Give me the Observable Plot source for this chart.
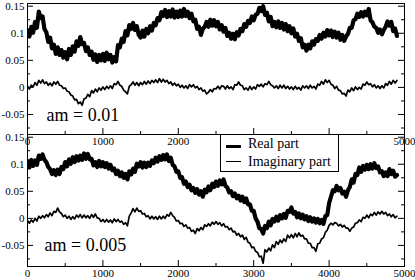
<!DOCTYPE html>
<html><head><meta charset="utf-8">
<script src="https://cdn.jsdelivr.net/npm/d3@7"></script>
<script src="https://cdn.jsdelivr.net/npm/@observablehq/plot@0.6"></script>
<style>
html,body{margin:0;padding:0;background:#fff;}
#wrap{position:relative;width:415px;height:280px;overflow:hidden;font-family:"Liberation Serif","Times New Roman",serif;}
#wrap svg{position:absolute;left:0;}
#wrap svg text{font-family:"Liberation Serif","Times New Roman",serif !important;font-variant:normal !important;}
#legend{position:absolute;left:220px;top:134px;width:119px;height:38px;border:1px solid #000;box-sizing:border-box;background:#fff;font-size:14px;line-height:1;color:#000;}
#legend .ln{position:absolute;left:5px;width:15px;background:#000;}
#legend .lb{position:absolute;left:27px;white-space:nowrap;}
</style></head><body><div id="wrap"><div id="legend">
<div class="ln" style="top:10px;height:3px"></div><div class="lb" style="top:2px">Real part</div>
<div class="ln" style="top:26px;height:1px"></div><div class="lb" style="top:20px">Imaginary part</div>
</div></div>
<script>
// sample spacing along the horizontal axis
const step = 25;
const xTicks = [0, 1000, 2000, 3000, 4000, 5000];
const xMinorTicks = [500, 1500, 2500, 3500, 4500];
// top panel: the 3000 and 4000 labels sit behind the legend box
const xLabelsTop = [0, 1000, 2000, 5000];
const xLabelsBottom = [0, 1000, 2000, 3000, 4000, 5000];
const yTicks = [-0.05, 0, 0.05, 0.1, 0.15];
const yMinorTicks = [-0.075, -0.025, 0.025, 0.075, 0.125];
const panelLabels = ["am = 0.01", "am = 0.005"];

// am = 0.01
const realTop = [0.106,0.094,0.112,0.101,0.121,0.110,0.140,0.128,0.131,0.108,0.102,0.084,0.092,0.072,0.079,0.062,
0.074,0.060,0.069,0.055,0.065,0.052,0.071,0.060,0.076,0.066,0.085,0.077,0.093,0.080,0.082,0.067,
0.074,0.060,0.066,0.051,0.061,0.047,0.060,0.050,0.062,0.049,0.064,0.052,0.060,0.046,0.056,0.048,
0.078,0.074,0.090,0.084,0.104,0.096,0.115,0.108,0.119,0.106,0.113,0.097,0.092,0.105,0.094,0.108,
0.100,0.113,0.105,0.119,0.115,0.128,0.124,0.139,0.132,0.143,0.130,0.141,0.131,0.144,0.129,0.140,
0.130,0.142,0.131,0.145,0.132,0.140,0.128,0.136,0.122,0.125,0.108,0.112,0.097,0.108,0.112,0.121,
0.112,0.125,0.114,0.124,0.113,0.121,0.107,0.115,0.103,0.110,0.095,0.101,0.090,0.099,0.089,0.102,
0.096,0.108,0.104,0.117,0.112,0.123,0.119,0.131,0.124,0.134,0.136,0.147,0.141,0.150,0.134,0.138,
0.122,0.130,0.113,0.121,0.111,0.122,0.110,0.119,0.107,0.117,0.104,0.113,0.100,0.109,0.094,0.099,
0.086,0.091,0.074,0.079,0.068,0.079,0.072,0.085,0.079,0.089,0.086,0.097,0.090,0.101,0.094,0.106,
0.096,0.105,0.093,0.103,0.092,0.101,0.088,0.097,0.086,0.094,0.099,0.110,0.110,0.124,0.126,0.136,
0.130,0.139,0.131,0.140,0.133,0.145,0.124,0.120,0.112,0.110,0.101,0.107,0.098,0.106,0.112,0.122,
0.114,0.121,0.104,0.109,0.095];
const imagTop = [0.002,-0.003,0.004,0.001,0.009,0.004,0.013,0.008,0.014,0.007,0.010,0.004,0.008,0.003,0.010,0.006,
0.011,0.004,0.003,-0.002,-0.001,-0.007,-0.008,-0.014,-0.016,-0.023,-0.022,-0.030,-0.027,-0.033,-0.021,-0.020,
-0.013,-0.017,-0.006,-0.010,-0.003,-0.008,-0.001,-0.005,0.001,-0.004,0.002,-0.002,0.003,-0.002,0.007,0.005,
0.011,0.004,0.002,-0.005,-0.008,-0.012,0.002,0.005,0.010,0.004,0.009,0.003,0.009,0.005,0.011,0.006,
0.012,0.007,0.013,0.009,0.014,0.009,0.016,0.010,0.015,0.010,0.013,0.007,0.010,0.004,0.008,0.003,
0.006,0.000,0.004,-0.001,0.003,-0.002,0.005,0.001,0.005,-0.001,0.002,-0.004,-0.001,-0.007,-0.005,-0.012,
-0.009,-0.004,-0.008,-0.002,-0.003,0.002,-0.003,0.003,0.002,-0.003,0.003,-0.002,0.001,-0.004,0.005,0.004,
0.010,0.004,0.003,-0.004,-0.001,-0.005,0.002,-0.004,0.001,-0.003,0.005,0.002,0.006,0.001,0.007,0.005,
0.011,0.005,0.003,-0.001,0.003,-0.002,0.004,-0.001,0.004,-0.002,0.002,-0.003,0.001,-0.004,0.002,-0.003,
0.000,-0.005,0.003,-0.001,0.003,-0.002,0.004,-0.001,0.002,-0.003,0.006,0.004,0.011,0.006,0.014,0.009,
0.013,0.006,0.004,-0.002,0.002,-0.005,-0.006,-0.012,-0.011,-0.016,-0.005,-0.008,-0.001,-0.006,0.001,-0.004,
0.000,-0.003,0.006,0.004,0.010,0.005,0.007,0.001,0.005,-0.001,0.003,-0.002,0.003,-0.001,0.007,0.004,
0.011,0.006,0.013,0.008,0.013];

// am = 0.005
const realBottom = [0.106,0.094,0.108,0.097,0.107,0.099,0.116,0.110,0.118,0.108,0.104,0.095,0.091,0.082,0.089,0.080,
0.090,0.082,0.095,0.091,0.104,0.096,0.109,0.101,0.113,0.104,0.115,0.107,0.116,0.108,0.120,0.110,
0.119,0.109,0.110,0.098,0.104,0.095,0.106,0.096,0.104,0.095,0.102,0.092,0.099,0.089,0.092,0.082,
0.088,0.078,0.085,0.075,0.082,0.072,0.087,0.081,0.092,0.086,0.101,0.096,0.104,0.094,0.103,0.095,
0.103,0.097,0.107,0.102,0.112,0.105,0.115,0.108,0.117,0.109,0.118,0.106,0.112,0.099,0.096,0.086,
0.087,0.075,0.076,0.064,0.068,0.058,0.062,0.052,0.056,0.047,0.054,0.044,0.050,0.040,0.053,0.048,
0.059,0.052,0.064,0.058,0.068,0.060,0.070,0.063,0.072,0.060,0.057,0.048,0.050,0.041,0.046,0.037,
0.042,0.033,0.040,0.030,0.037,0.026,0.026,0.014,0.014,0.000,-0.006,-0.018,-0.020,-0.028,-0.014,-0.018,
-0.006,-0.013,-0.001,-0.006,0.003,-0.004,0.006,0.000,0.008,0.001,0.014,0.012,0.020,0.009,0.012,0.002,
0.009,0.000,0.007,-0.002,0.004,-0.005,0.002,-0.006,0.000,-0.008,-0.001,-0.009,-0.003,-0.010,0.004,0.006,
0.028,0.040,0.052,0.050,0.060,0.052,0.056,0.046,0.049,0.040,0.052,0.058,0.072,0.066,0.082,0.080,
0.094,0.086,0.097,0.090,0.099,0.091,0.100,0.092,0.102,0.093,0.096,0.085,0.087,0.078,0.085,0.078,
0.091,0.082,0.088,0.077,0.080];
const imagBottom = [-0.004,-0.009,-0.003,-0.007,0.000,-0.005,0.004,0.000,0.005,0.001,0.007,0.003,0.010,0.005,0.013,0.011,
0.019,0.012,0.009,0.003,0.006,0.000,0.004,-0.002,0.003,-0.001,0.006,0.002,0.007,0.001,0.006,0.001,
0.005,0.000,0.007,0.002,0.008,0.001,0.000,-0.006,-0.002,-0.007,-0.002,-0.007,-0.003,-0.008,-0.001,-0.006,
-0.002,-0.007,-0.005,-0.011,-0.008,-0.014,0.004,0.010,0.018,0.012,0.019,0.013,0.014,0.008,0.009,0.003,
0.005,-0.001,0.004,-0.001,0.003,-0.002,0.004,-0.001,0.004,0.000,0.007,0.004,0.011,0.005,0.002,-0.005,
-0.004,-0.010,-0.009,-0.015,-0.012,-0.018,-0.017,-0.024,-0.022,-0.028,-0.019,-0.023,-0.017,-0.021,-0.012,-0.015,
-0.010,-0.014,-0.007,-0.011,-0.006,-0.011,-0.008,-0.014,-0.010,-0.016,-0.015,-0.021,-0.018,-0.025,-0.024,-0.031,
-0.028,-0.034,-0.031,-0.039,-0.035,-0.044,-0.046,-0.054,-0.053,-0.061,-0.063,-0.071,-0.070,-0.083,-0.058,-0.062,
-0.055,-0.060,-0.049,-0.054,-0.043,-0.048,-0.040,-0.045,-0.038,-0.043,-0.031,-0.036,-0.030,-0.036,-0.028,-0.034,
-0.027,-0.033,-0.031,-0.038,-0.038,-0.046,-0.046,-0.054,-0.054,-0.061,-0.047,-0.046,-0.038,-0.036,-0.026,-0.022,
-0.013,-0.009,-0.012,-0.008,-0.009,-0.014,-0.011,-0.016,-0.013,-0.018,-0.018,-0.024,-0.018,-0.016,-0.009,-0.008,
-0.003,-0.006,0.002,0.000,0.006,0.001,0.008,0.005,0.011,0.006,0.012,0.008,0.013,0.008,0.011,0.005,
0.008,0.003,0.007,0.001,0.004];

const rows = arr => arr.map((v, i) => ({t: i * step, v}));
const font = '"Liberation Serif","Times New Roman",serif';
const fmt = d => String(d);

function panel({real, imag, label, xLabels, height, marginTop, marginBottom, yDomain, labelDx, labelDy}) {
  const W = 415, mL = 27, mR = 11;
  const iw = W - mL - mR, ih = height - marginTop - marginBottom;
  return Plot.plot({
    width: W, height, marginLeft: mL, marginRight: mR, marginTop, marginBottom,
    style: {fontFamily: font, fontSize: "11px", background: "transparent", color: "#000", overflow: "visible"},
    x: {domain: [0, 5000], axis: null, label: null},
    y: {domain: yDomain, axis: null, label: null},
    marks: [
      Plot.line(rows(imag), {x: "t", y: "v", stroke: "#000", strokeWidth: 1.7, clip: true}),
      Plot.line(rows(real), {x: "t", y: "v", stroke: "#000", strokeWidth: 4.2, clip: true}),
      Plot.tickX(xTicks, {x: d => d, insetTop: ih - 6, stroke: "#000"}),
      Plot.tickX(xMinorTicks, {x: d => d, insetTop: ih - 3, stroke: "#000"}),
      Plot.tickY(yTicks, {y: d => d, insetRight: iw - 6, stroke: "#000"}),
      Plot.tickY(yMinorTicks, {y: d => d, insetRight: iw - 3, stroke: "#000"}),
      Plot.tickY(yTicks, {y: d => d, insetLeft: iw - 6, stroke: "#000"}),
      Plot.tickY(yMinorTicks, {y: d => d, insetLeft: iw - 3, stroke: "#000"}),
      Plot.axisX(xLabels, {anchor: "bottom", tickSize: 0, tickPadding: 3, tickFormat: fmt, label: null, fill: "#000", fontFamily: font}),
      Plot.axisY(yTicks, {anchor: "left", tickSize: 0, tickPadding: 3, tickFormat: fmt, label: null, fill: "#000", fontFamily: font}),
      Plot.frame({stroke: "#000"}),
      Plot.text([label], {frameAnchor: "bottom-left", dx: labelDx, dy: labelDy, textAnchor: "start", lineAnchor: "bottom", fontSize: 18, fill: "#000", fontFamily: font})
    ]
  });
}

const wrap = document.getElementById("wrap");
const legendBox = document.getElementById("legend");

const svgBottom = panel({real: realBottom, imag: imagBottom, label: panelLabels[1], xLabels: xLabelsBottom, height: 146, marginTop: 0, marginBottom: 14,
  yDomain: [-0.089, 0.155], labelDx: 17, labelDy: -16});
svgBottom.style.top = "134px";
svgBottom.style.overflow = "hidden";
wrap.insertBefore(svgBottom, legendBox);

const svgTop = panel({real: realTop, imag: imagTop, label: panelLabels[0], xLabels: xLabelsTop, height: 150, marginTop: 3, marginBottom: 16,
  yDomain: [-0.087, 0.155], labelDx: 19, labelDy: -14});
svgTop.style.top = "0px";
wrap.insertBefore(svgTop, legendBox);
</script>
</body></html>
